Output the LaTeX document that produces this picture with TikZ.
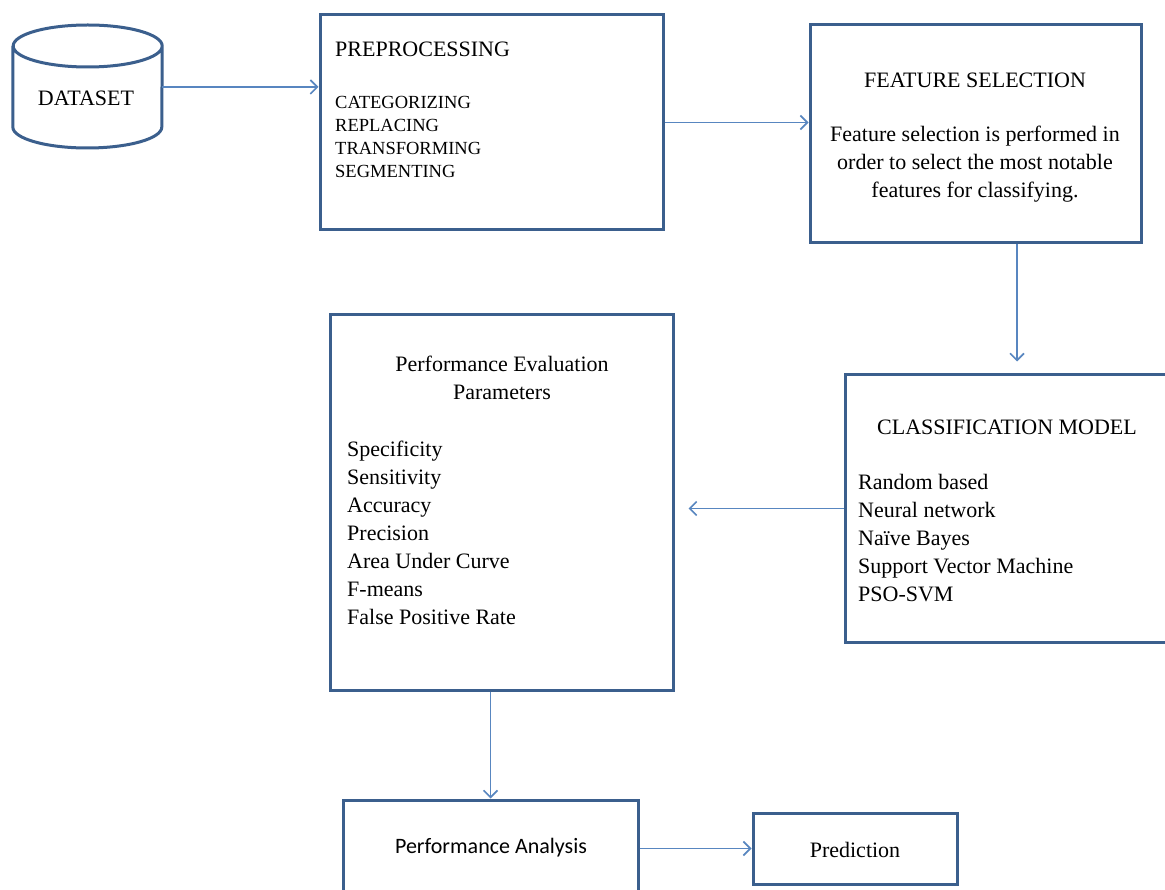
\documentclass[tikz,border=0pt]{standalone}
\usepackage{fontspec}
\setmainfont{Liberation Serif}
\newfontfamily\calfont{Carlito}
\usetikzlibrary{arrows.meta}

\definecolor{boxblue}{RGB}{59,95,141}
\definecolor{linkblue}{RGB}{88,134,192}

\tikzset{
  stagebox/.style={draw=boxblue, line width=3pt, fill=white, inner sep=0pt},
  flow/.style={draw=linkblue, line width=1.6pt,
    -{Straight Barb[length=7pt,width=14pt,line width=1.6pt]}},
  bodytext/.style={inner sep=0pt, font=\fontsize{22}{28}\selectfont},
  smalltext/.style={inner sep=0pt, font=\fontsize{18.5}{23}\selectfont},
}

\begin{document}
\begin{tikzpicture}[x=1pt,y=1pt]
  \path[use as bounding box] (0,0) rectangle (1165,-890);
  \clip (0,0) rectangle (1165,-890);
  \fill[white] (0,0) rectangle (1165,-890);

  % dataset cylinder
  \node[inner sep=0pt, minimum width=149pt, minimum height=123pt] (data) at (87.5,-86.5) {};
  \draw[boxblue, line width=3pt]
    (data.west |- 0,-46) -- (data.west |- 0,-127)
    arc[start angle=180, end angle=360, x radius=74.5pt, y radius=21pt]
    -- (data.east |- 0,-46)
    arc[start angle=0, end angle=180, x radius=74.5pt, y radius=21pt]
    arc[start angle=180, end angle=360, x radius=74.5pt, y radius=21pt];
  \node[bodytext] (datatxt) at (86,-98) {DATASET};

  % stage boxes
  \node[stagebox, minimum width=343pt, minimum height=215pt] (pre) at (491.5,-122.5) {};
  \node[stagebox, minimum width=331pt, minimum height=218pt] (feat) at (975.5,-134) {};
  \node[stagebox, minimum width=335pt, minimum height=267pt] (cls) at (1012.5,-508.5) {};
  \node[stagebox, minimum width=343pt, minimum height=375pt] (pev) at (501.5,-502.5) {};
  \node[stagebox, minimum width=295pt, minimum height=100pt] (pa) at (490.5,-850) {};
  \node[stagebox, minimum width=204pt, minimum height=71pt] (pred) at (855,-848.5) {};

  % preprocessing text
  \node[bodytext, anchor=west] (pretitle) at (335,-49) {PREPROCESSING};
  \node[smalltext, anchor=west, align=left] (prelist) at (335,-137)
    {CATEGORIZING\\REPLACING\\TRANSFORMING\\SEGMENTING};

  % feature selection text
  \node[bodytext] (feattitle) at (975,-80) {FEATURE SELECTION};
  \node[bodytext, align=center] (featbody) at (975,-164)
    {Feature selection is performed in\\order to select the most notable\\features for classifying.};

  % classification text
  \node[bodytext] (clstitle) at (1007,-427) {CLASSIFICATION MODEL};
  \node[bodytext, anchor=west, align=left] (clslist) at (858,-538.5)
    {Random based\\Neural network\\Naïve Bayes\\Support Vector Machine\\PSO-SVM};

  % performance evaluation text
  \node[bodytext, align=center] (pevtitle) at (502,-377.5)
    {Performance Evaluation\\Parameters};
  \node[bodytext, anchor=west, align=left] (pevlist) at (347,-532.5)
    {Specificity\\Sensitivity\\Accuracy\\Precision\\Area Under Curve\\F-means\\False Positive Rate};

  % bottom row text
  \node[inner sep=0pt, font=\calfont\fontsize{22}{26}\selectfont] (patxt) at (491,-848) {Performance Analysis};
  \node[bodytext] (predtxt) at (855,-850) {Prediction};

  % connectors
  \draw[flow] (data.east |- 0,-87) -- (pre.west |- 0,-87);
  \draw[flow] (pre.east) -- (pre.east -| feat.west);
  \draw[flow, shorten >=12pt] ([xshift=41.5pt]feat.south) -- ([xshift=41.5pt]feat.south |- cls.north);
  \draw[flow, shorten >=14pt] (cls.west) -- (cls.west -| pev.east);
  \draw[flow] (pev.south -| pa.north) -- (pa.north);
  \draw[flow] (pa.east |- pred.west) -- (pred.west);
\end{tikzpicture}
\end{document}
